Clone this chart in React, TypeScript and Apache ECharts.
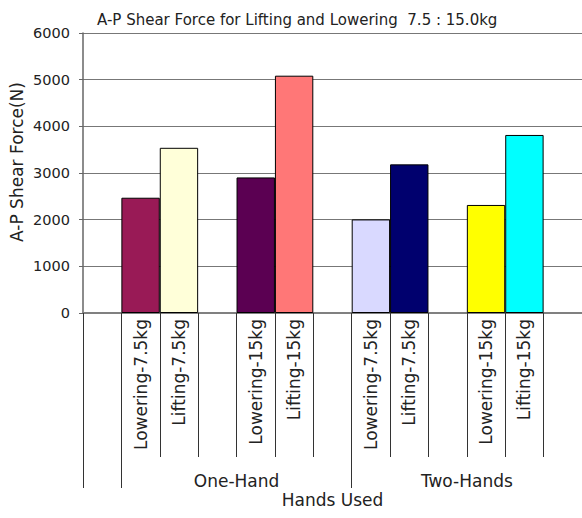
import React, { useEffect, useRef } from "react";
import * as echarts from "echarts";

const categories = [
  "",
  "Lowering-7.5kg",
  "Lifting-7.5kg",
  "",
  "Lowering-15kg",
  "Lifting-15kg",
  "",
  "Lowering-7.5kg",
  "Lifting-7.5kg",
  "",
  "Lowering-15kg",
  "Lifting-15kg",
  "",
];
const values: (number | null)[] = [null, 2470, 3540, null, 2905, 5085, null, 2005, 3185, null, 2315, 3815, null];
const barColors = [
  "#ffffff",
  "#991a56",
  "#ffffd9",
  "#ffffff",
  "#5b0052",
  "#ff7777",
  "#ffffff",
  "#d9d9ff",
  "#00006e",
  "#ffffff",
  "#ffff00",
  "#00ffff",
  "#ffffff",
];
const groupNames = ["", "One-Hand", "Two-Hands"];
const groupSizes = [1, 6, 6];
const yTicks = [0, 1000, 2000, 3000, 4000, 5000, 6000];

const FONT = "DejaVu Sans";
const TEXT = "#222";

export default function App() {
  const ref = useRef<HTMLDivElement>(null);
  useEffect(() => {
    if (!ref.current) return;
    const chart = echarts.init(ref.current, null, { renderer: "svg" });

    const boundaries: number[] = [];
    const centers: number[] = [];
    let acc = 0;
    groupSizes.forEach((s) => {
      boundaries.push(acc);
      centers.push(acc + s / 2);
      acc += s;
    });
    const labelMap: Record<string, string> = {};
    centers.forEach((c, i) => (labelMap[String(c)] = groupNames[i]));
    const groupLabelValues = centers.filter((_, i) => groupNames[i] !== "");

    chart.setOption({
      animation: false,
      backgroundColor: "#ffffff",
      title: {
        text: "A-P Shear Force for Lifting and Lowering  7.5 : 15.0kg",
        left: 92,
        top: 7,
        textStyle: { fontFamily: FONT, fontSize: 15, fontWeight: "normal", color: TEXT },
      },
      grid: { left: 83, top: 33, width: 500, height: 280, containLabel: false },
      xAxis: [
        {
          type: "category",
          data: categories,
          boundaryGap: true,
          axisLine: { show: true, lineStyle: { color: "#808080", width: 2 } },
          axisTick: { show: true, interval: 0, length: 144, lineStyle: { color: "#333", width: 1 } },
          axisLabel: {
            interval: 0,
            rotate: 90,
            margin: 6,
            fontFamily: FONT,
            fontSize: 17,
            color: TEXT,
          },
          splitLine: { show: false },
          name: "Hands Used",
          nameLocation: "middle",
          nameGap: 178,
          nameTextStyle: { fontFamily: FONT, fontSize: 17, color: TEXT },
        },
        {
          type: "value",
          min: 0,
          max: acc,
          position: "bottom",
          axisLine: { show: false },
          splitLine: { show: false },
          axisTick: {
            show: true,
            customValues: boundaries,
            length: 175,
            lineStyle: { color: "#333", width: 1 },
          },
          axisLabel: {
            customValues: groupLabelValues,
            formatter: (v: number) => labelMap[String(v)] ?? "",
            margin: 159,
            fontFamily: FONT,
            fontSize: 17,
            color: TEXT,
          },
        },
      ],
      yAxis: {
        type: "value",
        min: yTicks[0],
        max: yTicks[yTicks.length - 1],
        interval: 1000,
        axisLine: { show: true, lineStyle: { color: "#666", width: 1.5 } },
        axisTick: { show: true, length: 4, lineStyle: { color: "#666" } },
        axisLabel: {
          margin: 13,
          fontFamily: FONT,
          fontSize: 14.5,
          color: TEXT,
          formatter: (v: number) => String(v),
        },
        splitLine: { show: true, lineStyle: { color: "#777", width: 1 } },
      },
      graphic: [
        {
          type: "text",
          x: 17,
          y: 162,
          rotation: Math.PI / 2,
          style: {
            text: "A-P Shear Force(N)",
            fontFamily: FONT,
            fontSize: 17,
            fill: TEXT,
            textAlign: "center",
            textVerticalAlign: "middle",
          },
        },
      ],
      series: [
        {
          type: "bar",
          xAxisIndex: 0,
          yAxisIndex: 0,
          barCategoryGap: "0%",
          data: values.map((v, i) => ({
            value: v === null ? "-" : v,
            itemStyle: { color: barColors[i], borderColor: "#000", borderWidth: 1 },
          })),
        },
      ],
    });
    return () => chart.dispose();
  }, []);

  return (
    <div
      ref={ref}
      style={{ position: "fixed", left: 0, top: 0, width: 582, height: 518, background: "#fff" }}
    />
  );
}
